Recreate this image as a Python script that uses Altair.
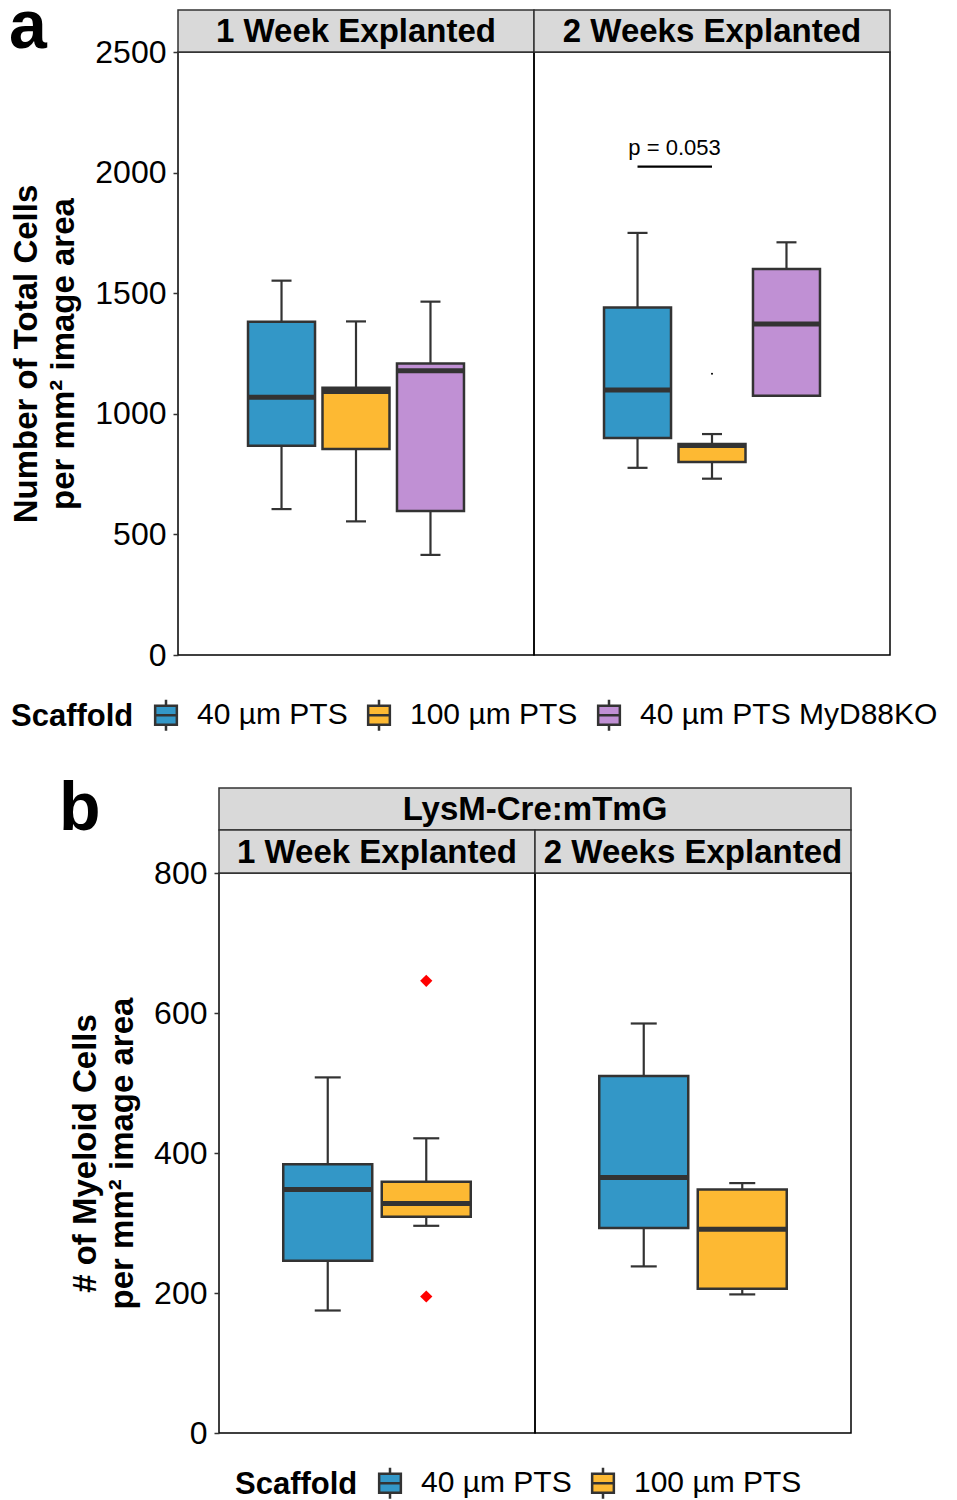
import altair as alt
import pandas as pd

FONT = "Liberation Sans"
DARK = "#333333"

# ---------------- data ----------------
scaffold_a = ["40 µm PTS", "100 µm PTS", "40 µm PTS MyD88KO"]
colors_a = ["#3397C7", "#FDB933", "#C090D4"]
scaffold_b = ["40 µm PTS", "100 µm PTS"]
colors_b = ["#3397C7", "#FDB933"]

week_labels = ["1 Week Explanted", "2 Weeks Explanted"]
b_group_label = "LysM-Cre:mTmG"

# panel a : number of total cells (1 week)
a1_lower = [605, 554, 415]
a1_q1 = [868, 854, 597]
a1_median = [1069, 1092, 1178]
a1_q3 = [1382, 1108, 1209]
a1_upper = [1552, 1383, 1465]
# panel a : 2 weeks
a2_lower = [776, 731, 1075]
a2_q1 = [900, 800, 1075]
a2_median = [1099, 869, 1372]
a2_q3 = [1441, 875, 1600]
a2_upper = [1750, 916, 1711]
a2_outlier_scaffold = ["100 µm PTS"]
a2_outlier_value = [1166]

p_text = ["p = 0.053"]
p_from = ["40 µm PTS"]
p_to = ["100 µm PTS"]
p_y = [2025]

# panel b : myeloid cells (1 week)
b1_lower = [175, 296]
b1_q1 = [246, 309]
b1_median = [348, 328]
b1_q3 = [384, 359]
b1_upper = [508, 421]
b1_outlier_scaffold = ["100 µm PTS", "100 µm PTS"]
b1_outlier_value = [646, 195]
# panel b : 2 weeks
b2_lower = [238, 198]
b2_q1 = [293, 206]
b2_median = [365, 291]
b2_q3 = [510, 348]
b2_upper = [585, 357]

a_ticks = [0, 500, 1000, 1500, 2000, 2500]
b_ticks = [0, 200, 400, 600, 800]
a_title = ["Number of Total Cells", "per mm² image area"]
b_title = ["# of Myeloid Cells", "per mm² image area"]

LEGEND_PATH = "M-0.7,-0.62H0.7V0.62H-0.7Z M0,-1V-0.62 M0,0.62V1 M-0.7,0H0.7"


def y_axis(title, ticks):
    return alt.Axis(values=ticks, title=title, titleFont=FONT, titleFontSize=33,
                    titleFontWeight="bold", titleColor="black", titleLineHeight=37,
                    titlePadding=14, labelFont=FONT, labelFontSize=32, labelColor="black",
                    labelPadding=7, labelFlush=False, labelOverlap=False, tickSize=5,
                    tickColor=DARK, tickWidth=1.5, domain=False, grid=False, format="d")


def legend(x, y):
    return alt.Legend(orient="none", legendX=x, legendY=y, direction="horizontal",
                      title="Scaffold", titleOrient="left", titleFont=FONT, titleFontSize=31,
                      titleFontWeight="bold", titleColor="black", titlePadding=15,
                      titleBaseline="middle", labelLimit=600,
                      labelFont=FONT, labelFontSize=30, labelColor="black", labelOffset=14,
                      columnPadding=14, symbolType=LEGEND_PATH, symbolSize=961,
                      symbolStrokeColor=DARK, symbolStrokeWidth=2.5, symbolOpacity=1, padding=0)


def strip(label, width, y0, y1):
    d = pd.DataFrame({"label": [label]})
    rect = alt.Chart(d).mark_rect(fill="#D9D9D9", stroke=DARK, strokeWidth=1.5).encode(
        x=alt.value(0), x2=alt.value(width), y=alt.value(y0), y2=alt.value(y1))
    txt = alt.Chart(d).mark_text(font=FONT, fontSize=33, fontWeight="bold", baseline="middle",
                                 align="center", color="black").encode(
        x=alt.value(width / 2), y=alt.value((y0 + y1) / 2 + 1), text="label:N")
    return [rect, txt]


def letter(ch, x, y):
    d = pd.DataFrame({"t": [ch]})
    return alt.Chart(d).mark_text(font=FONT, fontSize=68, fontWeight="bold", align="left",
                                  baseline="alphabetic", color="black").encode(
        x=alt.value(x), y=alt.value(y), text="t:N")


def box_panel(cats, colors, lower, q1, med, q3, upper, ymax, ticks, box_w, cap_w,
              pin, pout, title, leg, extra=()):
    df = pd.DataFrame({"Scaffold": cats, "lower": lower, "q1": q1, "median": med,
                       "q3": q3, "upper": upper})
    xsc = alt.Scale(domain=cats, paddingInner=pin, paddingOuter=pout)
    X = alt.X("Scaffold:N", sort=cats, axis=None, scale=xsc)
    ysc = alt.Scale(domain=[0, ymax], nice=False, zero=False)
    yax = y_axis(title, ticks) if title else None

    def Y(f):
        return alt.Y(f"{f}:Q", scale=ysc, axis=yax)

    base = alt.Chart(df)
    layers = [
        base.mark_rule(color=DARK, strokeWidth=2.2).encode(x=X, y=Y("lower"), y2=alt.Y2("q1:Q")),
        base.mark_rule(color=DARK, strokeWidth=2.2).encode(x=X, y=Y("q3"), y2=alt.Y2("upper:Q")),
        base.mark_tick(color=DARK, thickness=2.2, size=cap_w, orient="horizontal", opacity=1).encode(x=X, y=Y("lower")),
        base.mark_tick(color=DARK, thickness=2.2, size=cap_w, orient="horizontal", opacity=1).encode(x=X, y=Y("upper")),
        base.mark_bar(size=box_w, stroke=DARK, strokeWidth=2.5, opacity=1).encode(
            x=X, y=Y("q1"), y2=alt.Y2("q3:Q"),
            fill=alt.Fill("Scaffold:N", scale=alt.Scale(domain=cats, range=colors), legend=leg)),
        base.mark_tick(color=DARK, thickness=5, size=box_w, orient="horizontal", opacity=1).encode(x=X, y=Y("median")),
    ]
    for fn in extra:
        layers.append(fn(X, Y))
    return layers


# ---------- panel a ----------
WA, HA = 356, 603
PIN_A, POUT_A = 0.1, 0.94


def a2_outliers(X, Y):
    d = pd.DataFrame({"Scaffold": a2_outlier_scaffold, "v": a2_outlier_value})
    return alt.Chart(d).mark_point(filled=True, color="black", size=4, opacity=1).encode(
        x=X, y=Y("v"))


def p_rule(X, Y):
    d = pd.DataFrame({"Scaffold": p_from, "to": p_to, "y": p_y})
    return alt.Chart(d).mark_rule(color="black", strokeWidth=2.2).encode(
        x=X, x2=alt.X2("to:N"), y=Y("y"))


def p_label(X, Y):
    d = pd.DataFrame({"Scaffold": p_from, "y": p_y, "label": p_text})
    return alt.Chart(d).mark_text(font=FONT, fontSize=22, dx=37, dy=-19, color="black").encode(
        x=X, y=Y("y"), text="label:N")


a1_layers = box_panel(scaffold_a, colors_a, a1_lower, a1_q1, a1_median, a1_q3, a1_upper,
                      2500, a_ticks, 67, 20, PIN_A, POUT_A, a_title, legend(-167, 646))
a1_layers += strip(week_labels[0], WA, -42, 0)
a1_layers.append(letter("a", -169, -4))
a1 = alt.layer(*a1_layers).properties(width=WA, height=HA)

a2_layers = box_panel(scaffold_a, colors_a, a2_lower, a2_q1, a2_median, a2_q3, a2_upper,
                      2500, a_ticks, 67, 20, PIN_A, POUT_A, None, None,
                      extra=(a2_outliers, p_rule, p_label))
a2_layers += strip(week_labels[1], WA, -42, 0)
a2 = alt.layer(*a2_layers).properties(width=WA, height=HA)

panel_a = alt.hconcat(a1, a2, spacing=0, bounds="flush").resolve_scale(
    fill="independent").resolve_legend(fill="independent")

# ---------- panel b ----------
WB, HB = 316, 560
PIN_B, POUT_B = 0.1, 0.654


def b1_outliers(X, Y):
    d = pd.DataFrame({"Scaffold": b1_outlier_scaffold, "v": b1_outlier_value})
    return alt.Chart(d).mark_point(filled=True, shape="diamond", color="#FF0000", size=150,
                                   opacity=1).encode(x=X, y=Y("v"))


b1_layers = box_panel(scaffold_b, colors_b, b1_lower, b1_q1, b1_median, b1_q3, b1_upper,
                      800, b_ticks, 89, 26, PIN_B, POUT_B, b_title, legend(16, 593),
                      extra=(b1_outliers,))
b1_layers += strip(b_group_label, 2 * WB, -85, -43)
b1_layers += strip(week_labels[0], WB, -43, 0)
b1_layers.append(letter("b", -160, -43))
b1 = alt.layer(*b1_layers).properties(width=WB, height=HB)

b2_layers = box_panel(scaffold_b, colors_b, b2_lower, b2_q1, b2_median, b2_q3, b2_upper,
                      800, b_ticks, 89, 26, PIN_B, POUT_B, None, None)
b2_layers += strip(week_labels[1], WB, -43, 0)
b2 = alt.layer(*b2_layers).properties(width=WB, height=HB)

# empty spacer view that shifts panel b 41px right of panel a
spacer = alt.Chart(pd.DataFrame({"t": [0]})).mark_point(opacity=0).encode(
    x=alt.value(0), y=alt.value(0)).properties(
    width=41, height=HB, view=alt.ViewBackground(stroke="transparent"))

panel_b = alt.hconcat(spacer, b1, b2, spacing=0, bounds="flush").resolve_scale(
    fill="independent").resolve_legend(fill="independent")

chart = alt.vconcat(panel_a, panel_b, spacing=38).resolve_scale(
    fill="independent").resolve_legend(fill="independent").properties(
    padding={"left": 0, "top": -15, "right": 0, "bottom": 0}
).configure(font=FONT).configure_view(stroke="black", strokeWidth=1.5)

chart.save("out.html", embed_options={"renderer": "svg", "actions": False})
